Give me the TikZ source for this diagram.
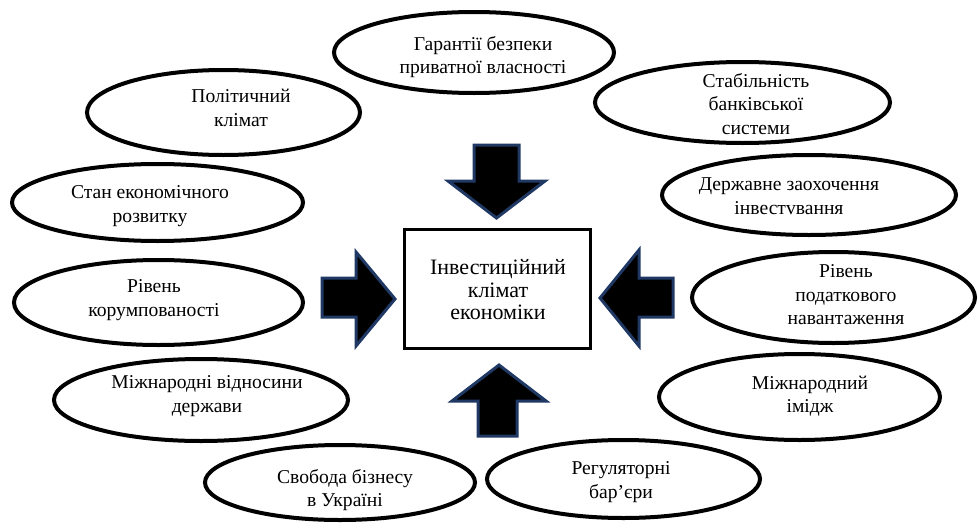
\documentclass[tikz,border=0pt]{standalone}
\usepackage{fontspec}
\setmainfont{Liberation Serif}
\usetikzlibrary{shapes.geometric}
\definecolor{arrowblue}{RGB}{31,56,100}
\begin{document}
\begin{tikzpicture}[x=1pt,y=-1pt,
  oval/.style={ellipse,draw=black,line width=4pt,inner sep=0pt},
  lbl/.style={align=center,font=\fontsize{19.6}{23.5}\selectfont,inner sep=0pt},
  centerbox/.style={draw=black,line width=3pt,inner sep=0pt,minimum width=186pt,minimum height=119pt},
  boxlbl/.style={align=center,font=\fontsize{22}{22.5}\selectfont,inner sep=0pt},
  bigarrow/.style={fill=black,draw=arrowblue,line width=3pt,line join=miter}]
\useasboundingbox (0,0) rectangle (978,525);

% ellipses
\node[oval,minimum width=280pt,minimum height=81pt] (e1) at (474,52.5) {};
\node[oval,minimum width=273pt,minimum height=85pt] (e2) at (223.5,112.5) {};
\node[oval,minimum width=291pt,minimum height=77pt] (e3) at (157.5,202.5) {};
\node[oval,minimum width=289pt,minimum height=85pt] (e4) at (158.5,302.5) {};
\node[oval,minimum width=294pt,minimum height=82pt] (e5) at (201,400) {};
\node[oval,minimum width=270pt,minimum height=75pt] (e6) at (340,482.5) {};
\node[oval,minimum width=273pt,minimum height=78pt] (e7) at (623.5,479) {};
\node[oval,minimum width=281pt,minimum height=86pt] (e8) at (799.5,397) {};
\node[oval,minimum width=283pt,minimum height=91pt] (e9) at (833.5,297.5) {};
\node[oval,minimum width=294pt,minimum height=80pt] (e10) at (809,195) {};
\node[oval,minimum width=295pt,minimum height=81pt] (e11) at (742.5,102.5) {};

% labels
\node[lbl] (t1) at (483,57) {Гарантії безпеки\\приватної власності};
\node[lbl] (t2) at (241,108) {Політичний\\клімат};
\node[lbl] (t3) at (150,206) {Стан економічного\\розвитку};
\node[lbl] (t4) at (154,300) {Рівень\\корумпованості};
\node[lbl] (t5) at (207,396) {Міжнародні відносини\\держави};
\node[lbl] (t6) at (345,490) {Свобода бізнесу\\в Україні};
\node[lbl] (t7) at (621,482) {Регуляторні\\бар’єри};
\node[lbl] (t8) at (810,396) {Міжнародний\\імідж};
\node[lbl] (t9) at (846,295) {Рівень\\податкового\\навантаження};
\node[lbl] (t10) at (789,196) {Державне заохочення\\інвестvвання};
\node[lbl] (t11) at (756,104) {Стабільність\\банківської\\системи};

% centre box
\node[centerbox] (c) at (497.5,289) {};
\node[boxlbl] (ct) at (498,290) {Інвестиційний\\клімат\\економіки};

% arrows
\draw[bigarrow] (474,145) -- (519,145) -- (519,181) -- (545,181) -- (496.5,218) -- (448,181) -- (474,181) -- cycle;
\draw[bigarrow] (322,278) -- (356,278) -- (356,252) -- (395,299) -- (356,346) -- (356,317) -- (322,317) -- cycle;
\draw[bigarrow] (673,278) -- (639,278) -- (639,250) -- (600,298) -- (639,346) -- (639,317) -- (673,317) -- cycle;
\draw[bigarrow] (499,365) -- (546,401) -- (517,401) -- (517,436) -- (478,436) -- (478,401) -- (452,401) -- cycle;
\end{tikzpicture}
\end{document}
